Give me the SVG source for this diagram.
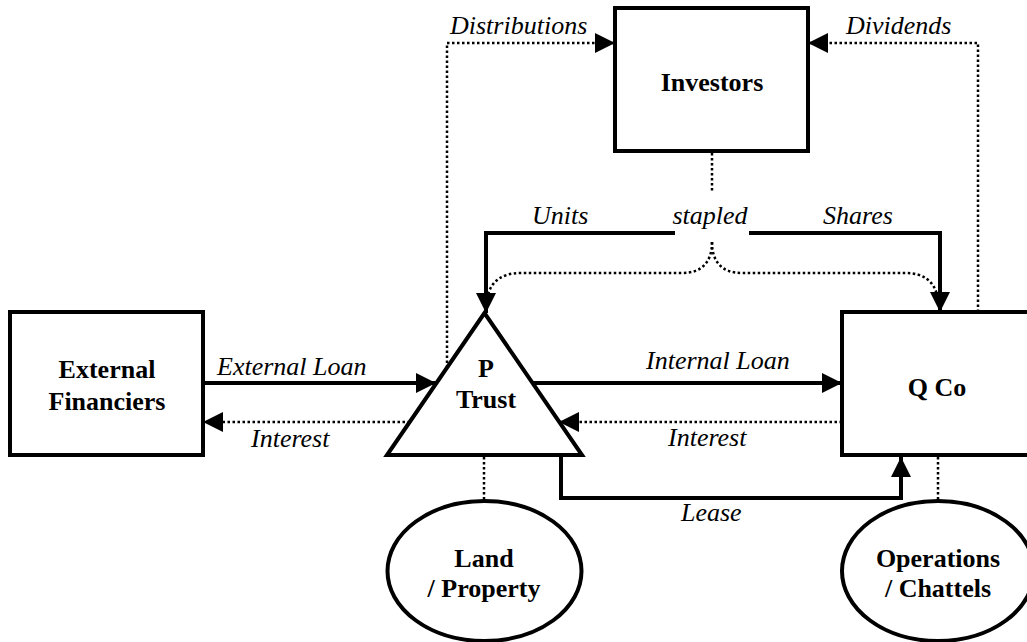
<svg xmlns="http://www.w3.org/2000/svg" width="1027" height="642" viewBox="0 0 1027 642">
<style>
.node{fill:#fff;stroke:#000;stroke-width:4}
.b{font-family:"Liberation Serif","Times New Roman",serif;font-weight:bold;font-size:26px;text-anchor:middle;fill:#000}
.i{font-family:"Liberation Serif","Times New Roman",serif;font-style:italic;font-size:26px;fill:#000}
.solid{fill:none;stroke:#000;stroke-width:4}
.dot{fill:none;stroke:#000;stroke-width:2.5;stroke-dasharray:2.5 2.5}
</style>
<defs>
<marker id="ah" viewBox="0 0 20 20" refX="20" refY="10" markerWidth="20" markerHeight="20" markerUnits="userSpaceOnUse" orient="auto">
<path d="M0,0 L20,10 L0,20 z" fill="#000"/>
</marker>
</defs>
<rect width="1027" height="642" fill="#fff"/>
<g id="investors"><rect class="node" x="615" y="8" width="193" height="143"/><text class="b" x="712" y="91">Investors</text></g>
<g id="external-financiers"><rect class="node" x="10" y="312" width="193" height="143"/><text class="b" x="107" y="378">External</text><text class="b" x="107" y="410">Financiers</text></g>
<g id="p-trust"><polygon class="node" points="484.5,313 387,455 582,455"/><text class="b" x="486" y="377">P</text><text class="b" x="486" y="408">Trust</text></g>
<g id="q-co"><rect class="node" x="842" y="312" width="193" height="143"/><text class="b" x="937" y="396">Q Co</text></g>
<g id="land-property"><ellipse class="node" cx="484.5" cy="571" rx="97" ry="70"/><text class="b" x="484" y="567">Land</text><text class="b" x="484" y="597">/ Property</text></g>
<g id="operations-chattels"><ellipse class="node" cx="938" cy="571" rx="96" ry="70"/><text class="b" x="938" y="567">Operations</text><text class="b" x="938" y="597">/ Chattels</text></g>
<g id="connectors">
<path class="dot" d="M447,368 L447,43 L615,43" marker-end="url(#ah)"/>
<path class="dot" d="M978,312 L978,43 L808,43" marker-end="url(#ah)"/>
<path class="dot" d="M712,153 L712,193"/>
<path class="solid" d="M675,233 L486,233 L486,313" marker-end="url(#ah)"/>
<path class="solid" d="M749,233 L940,233 L940,312" marker-end="url(#ah)"/>
<path class="dot" d="M712,242 C712,262 702,273 682,273 L520,273 C502,273 491,282 488,295"/>
<path class="dot" d="M712,242 C712,262 722,273 742,273 L906,273 C924,273 934,282 937,295"/>
<path class="solid" d="M203,383 L436,383" marker-end="url(#ah)"/>
<path class="dot" d="M410,422 L203,422" marker-end="url(#ah)"/>
<path class="solid" d="M533,383 L842,383" marker-end="url(#ah)"/>
<path class="dot" d="M842,422 L559,422" marker-end="url(#ah)"/>
<path class="solid" d="M561,457 L561,498 L901,498 L901,457" marker-end="url(#ah)"/>
<path class="dot" d="M484,457 L484,501"/>
<path class="dot" d="M938,457 L938,501"/>
</g>
<g id="labels">
<text class="i" x="450" y="34">Distributions</text>
<text class="i" x="846" y="34">Dividends</text>
<text class="i" x="532" y="224">Units</text>
<text class="i" x="710" y="224" text-anchor="middle">stapled</text>
<text class="i" x="823" y="224">Shares</text>
<text class="i" x="217" y="375">External Loan</text>
<text class="i" x="251" y="447">Interest</text>
<text class="i" x="646" y="369">Internal Loan</text>
<text class="i" x="668" y="446">Interest</text>
<text class="i" x="681" y="521">Lease</text>
</g>
</svg>
